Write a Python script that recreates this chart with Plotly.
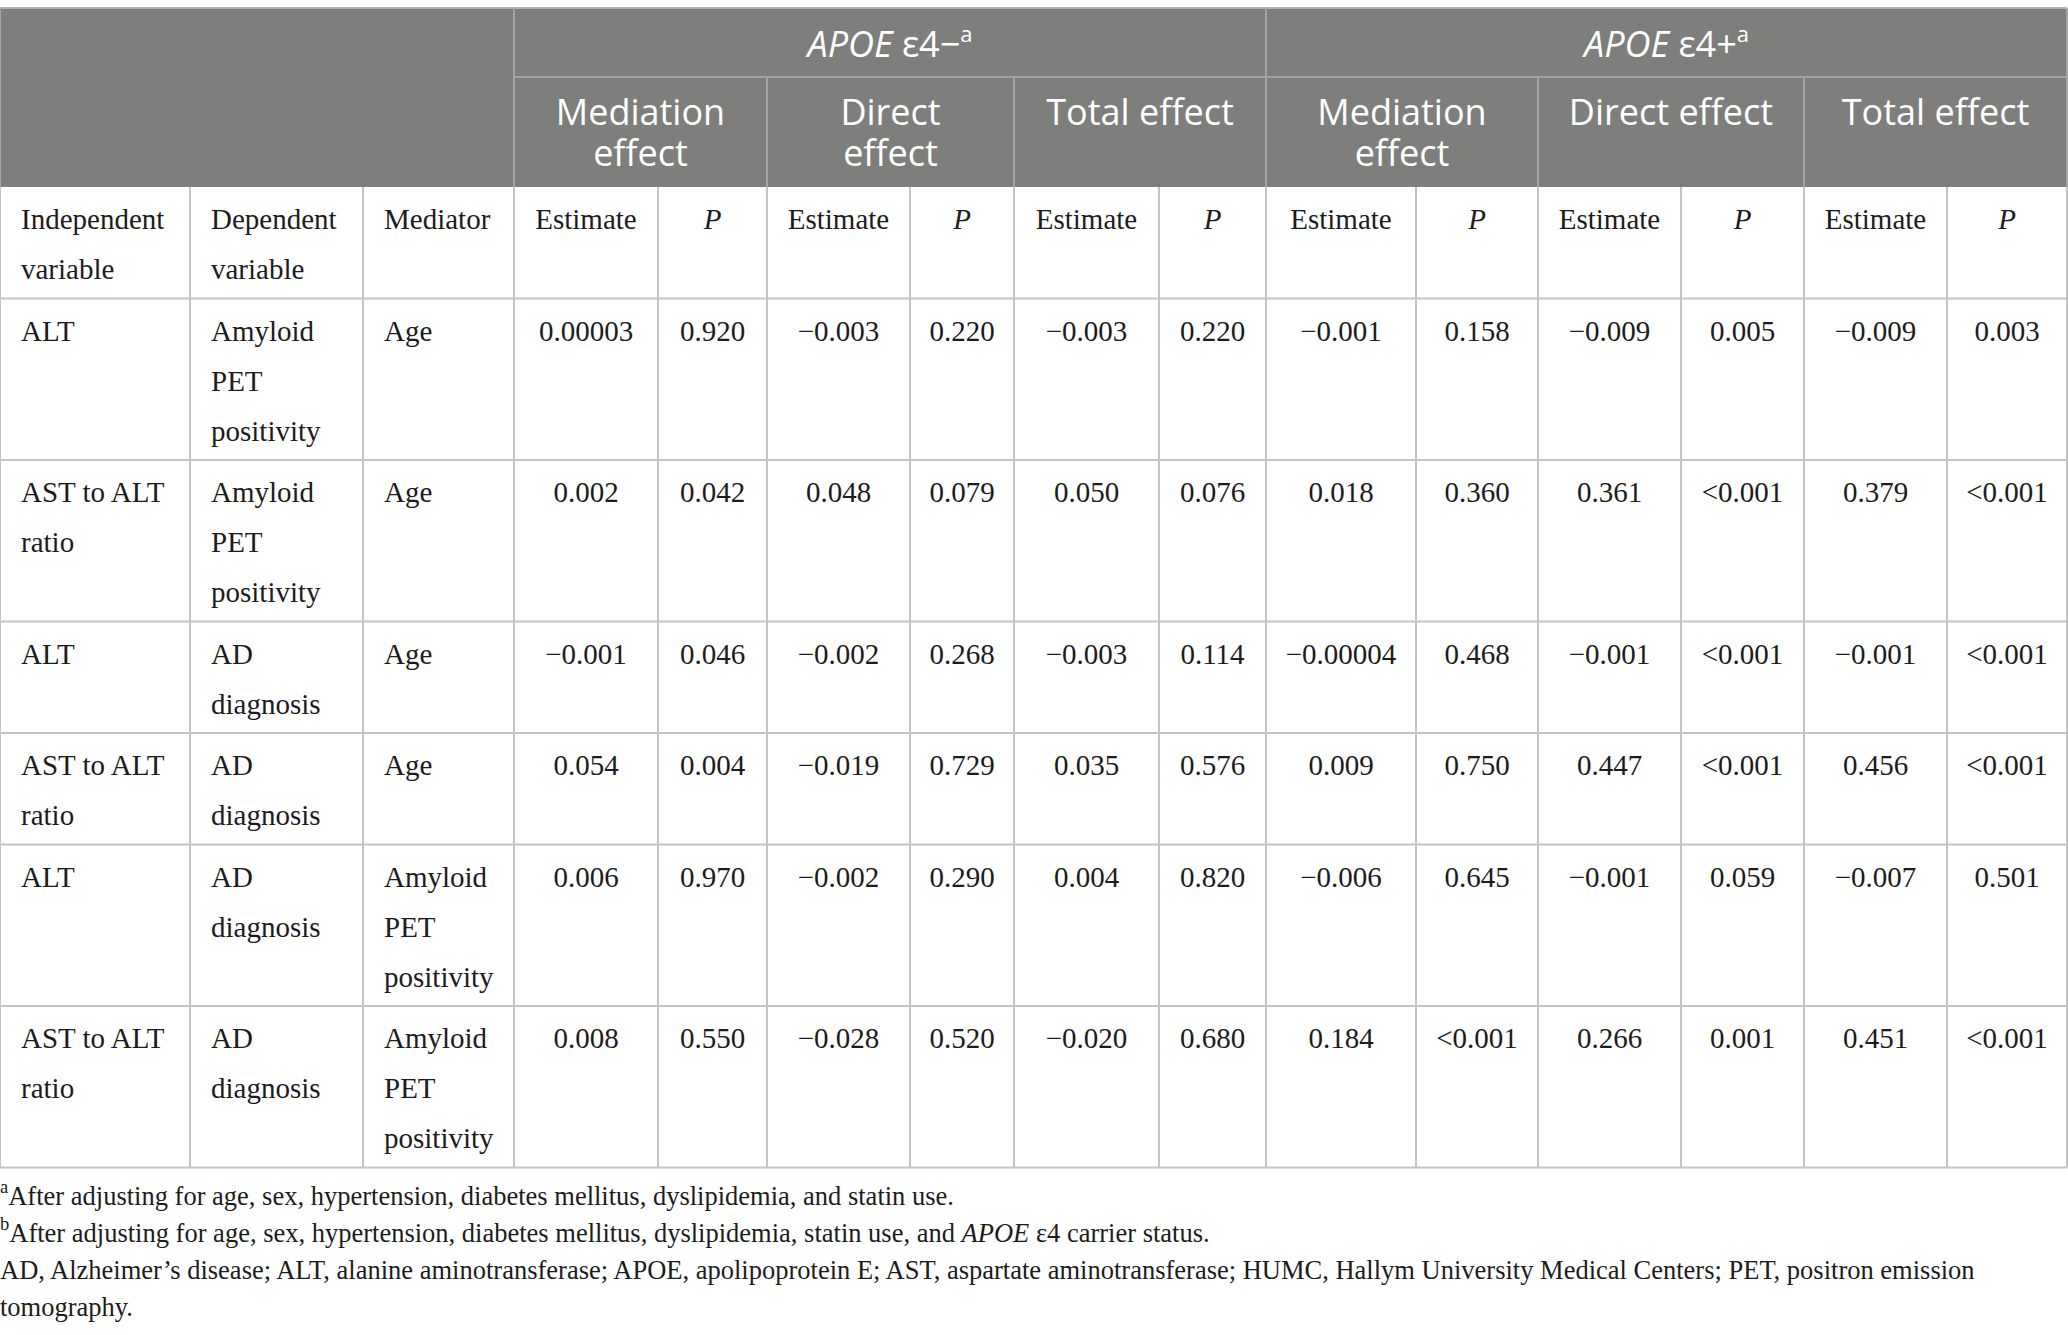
import plotly.graph_objects as go

W, H = 2068, 1335

# ---- table content ----
group_labels = ["<i>APOE</i> ε4−<sup><span style='font-size:22px'>a</span></sup>",
                "<i>APOE</i> ε4+<sup><span style='font-size:22px'>a</span></sup>"]
effect_labels = ["Mediation<br>effect", "Direct<br>effect", "Total effect",
                 "Mediation<br>effect", "Direct effect", "Total effect"]
col_labels = ["Independent<br>variable", "Dependent<br>variable", "Mediator"] + ["Estimate", "<i>P</i>"] * 6

independent = ["ALT", "AST to ALT<br>ratio", "ALT", "AST to ALT<br>ratio", "ALT", "AST to ALT<br>ratio"]
dependent = ["Amyloid<br>PET<br>positivity", "Amyloid<br>PET<br>positivity", "AD<br>diagnosis",
             "AD<br>diagnosis", "AD<br>diagnosis", "AD<br>diagnosis"]
mediator = ["Age", "Age", "Age", "Age", "Amyloid<br>PET<br>positivity", "Amyloid<br>PET<br>positivity"]

neg_med_est = ["0.00003", "0.002", "−0.001", "0.054", "0.006", "0.008"]
neg_med_p = ["0.920", "0.042", "0.046", "0.004", "0.970", "0.550"]
neg_dir_est = ["−0.003", "0.048", "−0.002", "−0.019", "−0.002", "−0.028"]
neg_dir_p = ["0.220", "0.079", "0.268", "0.729", "0.290", "0.520"]
neg_tot_est = ["−0.003", "0.050", "−0.003", "0.035", "0.004", "−0.020"]
neg_tot_p = ["0.220", "0.076", "0.114", "0.576", "0.820", "0.680"]
pos_med_est = ["−0.001", "0.018", "−0.00004", "0.009", "−0.006", "0.184"]
pos_med_p = ["0.158", "0.360", "0.468", "0.750", "0.645", "<0.001"]
pos_dir_est = ["−0.009", "0.361", "−0.001", "0.447", "−0.001", "0.266"]
pos_dir_p = ["0.005", "<0.001", "<0.001", "<0.001", "0.059", "0.001"]
pos_tot_est = ["−0.009", "0.379", "−0.001", "0.456", "−0.007", "0.451"]
pos_tot_p = ["0.003", "<0.001", "<0.001", "<0.001", "0.501", "<0.001"]

footnotes = [
    "<sup>a</sup>After adjusting for age, sex, hypertension, diabetes mellitus, dyslipidemia, and statin use.",
    "<sup>b</sup>After adjusting for age, sex, hypertension, diabetes mellitus, dyslipidemia, statin use, "
    "and <i>APOE</i> ε4 carrier status.",
    "AD, Alzheimer’s disease; ALT, alanine aminotransferase; APOE, apolipoprotein E; AST, aspartate "
    "aminotransferase; HUMC, Hallym University Medical Centers; PET, positron emission",
    "tomography.",
]

columns = [independent, dependent, mediator,
           neg_med_est, neg_med_p, neg_dir_est, neg_dir_p, neg_tot_est, neg_tot_p,
           pos_med_est, pos_med_p, pos_dir_est, pos_dir_p, pos_tot_est, pos_tot_p]

# ---- geometry (pixels) ----
COL_EDGES = [0, 190, 363, 514, 658, 767, 910, 1014, 1159, 1266, 1416, 1538, 1681, 1804, 1947, 2067]
TOP, GROUP_BOTTOM, HEAD_BOTTOM = 8, 77, 187
PAD = 21
LINE = 50          # body line step
ROW_EXTRA = 11.5   # row height = LINE * lines + ROW_EXTRA
FIRST_BASE = 42    # first baseline below row top
BODY_FS, HEAD_FS, NOTE_FS = 29, 36, 26.5
SERIF = "Liberation Serif, Times New Roman, serif"
SANS = "Open Sans, Noto Sans, sans-serif"
HEAD_BG = "#7e7f7d"
HEAD_LINE = "#a4a5a3"
GRID = "#c4c4c4"
INK = "#1c1c1c"


def nlines(s):
    return len(s.split("<br>"))


def esc(s):
    return s.replace("<0", "&lt;0")


def add_cell(b, text, c0, c1, top, left, first, step, fs):
    for i, line in enumerate(text.split("<br>")):
        if left:
            b["x"].append(c0 + PAD)
            b["pos"].append("middle right")
        else:
            b["x"].append((c0 + c1) / 2)
            b["pos"].append("middle center")
        # plotly puts a 'middle' text baseline 0.25 em below the point
        b["y"].append(top + first + i * step - 0.25 * fs)
        b["text"].append(line)


body = {"x": [], "y": [], "text": [], "pos": []}
head = {"x": [], "y": [], "text": [], "pos": []}

# column label row
sub_h = LINE * max(nlines(s) for s in col_labels) + ROW_EXTRA
for c, lab in enumerate(col_labels):
    add_cell(body, lab, COL_EDGES[c], COL_EDGES[c + 1], HEAD_BOTTOM, c < 3, FIRST_BASE, LINE, BODY_FS)

# data rows
row_tops = []
y = HEAD_BOTTOM + sub_h
for r in range(len(independent)):
    row_tops.append(y)
    n = max(nlines(col[r]) for col in columns)
    for c, col in enumerate(columns):
        add_cell(body, esc(col[r]), COL_EDGES[c], COL_EDGES[c + 1], y, c < 3, FIRST_BASE, LINE, BODY_FS)
    y += LINE * n + ROW_EXTRA
table_bottom = y
row_tops.append(table_bottom)

# header: groups and effects
for g, lab in enumerate(group_labels):
    c0, c1 = COL_EDGES[3 + 6 * g], COL_EDGES[9 + 6 * g]
    add_cell(head, lab, c0, c1, TOP, False, 49, 41, HEAD_FS)
for e, lab in enumerate(effect_labels):
    c0, c1 = COL_EDGES[3 + 2 * e], COL_EDGES[5 + 2 * e]
    add_cell(head, lab, c0, c1, GROUP_BOTTOM, False, 48, 41, HEAD_FS)

# ---- shapes ----
shapes = [dict(type="rect", x0=0, x1=COL_EDGES[-1], y0=TOP, y1=HEAD_BOTTOM,
               fillcolor=HEAD_BG, line=dict(width=0), layer="below")]


def hline(yv, x0, x1, color):
    shapes.append(dict(type="line", x0=x0, x1=x1, y0=yv, y1=yv, line=dict(color=color, width=2)))


def vline(xv, y0, y1, color):
    shapes.append(dict(type="line", x0=xv, x1=xv, y0=y0, y1=y1, line=dict(color=color, width=2)))


hline(TOP, 0, COL_EDGES[-1], "#b4b4b4")
hline(GROUP_BOTTOM, COL_EDGES[3], COL_EDGES[-1], HEAD_LINE)
vline(COL_EDGES[3], TOP, HEAD_BOTTOM, HEAD_LINE)
vline(COL_EDGES[9], TOP, HEAD_BOTTOM, HEAD_LINE)
for k in (5, 7, 11, 13):
    vline(COL_EDGES[k], GROUP_BOTTOM, HEAD_BOTTOM, HEAD_LINE)
vline(0, TOP, HEAD_BOTTOM, HEAD_LINE)
vline(COL_EDGES[-1], TOP, HEAD_BOTTOM, HEAD_LINE)

for yt in row_tops:
    hline(yt, 0, COL_EDGES[-1], GRID)
for xe in COL_EDGES:
    vline(xe, HEAD_BOTTOM, table_bottom, GRID)

# ---- footnotes ----
note_base = table_bottom + 37
note_step = 37
note_x = [0] * len(footnotes)
note_y = [note_base + i * note_step - 0.25 * NOTE_FS for i in range(len(footnotes))]

fig = go.Figure()
fig.add_trace(go.Scatter(x=body["x"], y=body["y"], text=body["text"], mode="text",
                         textposition=body["pos"], hoverinfo="skip",
                         textfont=dict(family=SERIF, size=BODY_FS, color=INK)))
fig.add_trace(go.Scatter(x=head["x"], y=head["y"], text=head["text"], mode="text",
                         textposition=head["pos"], hoverinfo="skip",
                         textfont=dict(family=SANS, size=HEAD_FS, color="white")))
fig.add_trace(go.Scatter(x=note_x, y=note_y, text=footnotes, mode="text",
                         textposition="middle right", hoverinfo="skip",
                         textfont=dict(family=SERIF, size=NOTE_FS, color=INK)))

fig.update_layout(
    width=W, height=H,
    margin=dict(l=0, r=0, t=0, b=0),
    paper_bgcolor="white", plot_bgcolor="white",
    showlegend=False,
    shapes=shapes,
    xaxis=dict(range=[0, W], visible=False, fixedrange=True),
    yaxis=dict(range=[H, 0], visible=False, fixedrange=True),
)

# drop the browser's default 8px body margin so the figure sits at the page corner
fig.write_html("out.html", config={"displayModeBar": False},
               post_script="document.body.style.margin='0';document.body.style.overflow='hidden';")
